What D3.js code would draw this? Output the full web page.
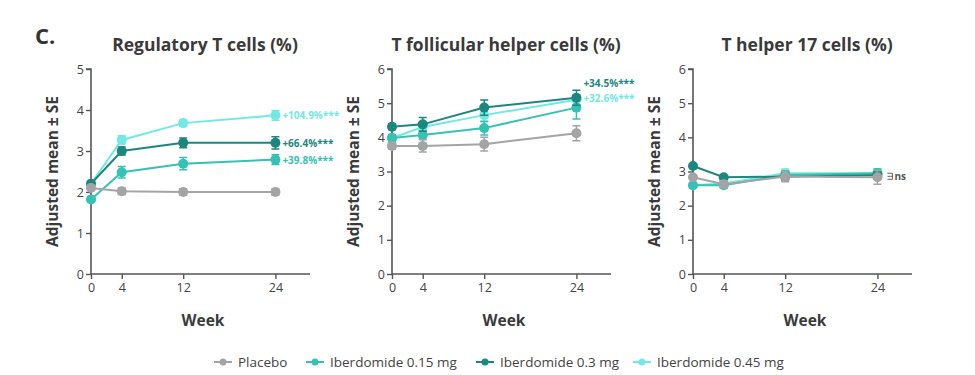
<!DOCTYPE html>
<html>
<head>
<meta charset="utf-8">
<script src="https://cdn.jsdelivr.net/npm/d3@7"></script>
<style>
  body { margin: 0; background: #fff; }
  text { font-family: "Open Sans", "DejaVu Sans", sans-serif; }
</style>
</head>
<body>
<script>
// data
var weeks = [0, 4, 12, 24];
var groups = ["Placebo", "Iberdomide 0.15 mg", "Iberdomide 0.3 mg", "Iberdomide 0.45 mg"];
var colors = ["#a3a4a6", "#35c2b3", "#1d877d", "#72e9e3"];

var titles = ["Regulatory T cells (%)", "T follicular helper cells (%)", "T helper 17 cells (%)"];
var yMax = [5, 6, 6];

// adjusted means per panel, one row per group
var tregMean = [[2.10, 2.02, 2.00, 2.00], [1.82, 2.48, 2.69, 2.79], [2.20, 3.00, 3.20, 3.20], [2.20, 3.27, 3.68, 3.87]];
var tregSE   = [[0.05, 0.08, 0.08, 0.08], [0.05, 0.14, 0.15, 0.12], [0.05, 0.10, 0.12, 0.15], [0.05, 0.10, 0.08, 0.12]];
var tfhMean  = [[3.75, 3.75, 3.80, 4.12], [3.98, 4.07, 4.27, 4.87], [4.31, 4.38, 4.87, 5.16], [3.98, 4.30, 4.65, 5.10]];
var tfhSE    = [[0.10, 0.18, 0.20, 0.22], [0.10, 0.12, 0.20, 0.33], [0.08, 0.20, 0.22, 0.22], [0.08, 0.12, 0.20, 0.15]];
var th17Mean = [[2.83, 2.63, 2.85, 2.83], [2.60, 2.60, 2.90, 2.95], [3.16, 2.83, 2.85, 2.90], [2.60, 2.65, 2.95, 2.95]];
var th17SE   = [[0.05, 0.10, 0.15, 0.20], [0.05, 0.08, 0.12, 0.12], [0.05, 0.05, 0.10, 0.10], [0.05, 0.08, 0.12, 0.12]];

// change vs baseline at week 24 (group index, text)
var tregLabels = [[3, "+104.9%***"], [2, "+66.4%***"], [1, "+39.8%***"]];
var tfhLabels  = [[2, "+34.5%***"], [3, "+32.6%***"]];
var th17Labels = [[0, "ns"]];

var means = [tregMean, tfhMean, th17Mean];
var ses = [tregSE, tfhSE, th17SE];
var labels = [tregLabels, tfhLabels, th17Labels];

var drawOrder = [3, 1, 2, 0];

var W = 975, H = 375;
var svg = d3.select("body").append("svg").attr("width", W).attr("height", H);

svg.append("text").attr("x", 35).attr("y", 44)
   .attr("font-size", 22).attr("font-weight", "bold").attr("fill", "#333")
   .text("C.");

var axisLeft0 = [91, 392, 693];
var plotTop = 69, plotBottom = 274, plotW = 219;
var axisColor = "#555";

titles.forEach(function(title, p) {
  var g = svg.append("g").attr("transform", "translate(" + axisLeft0[p] + ",0)");

  var x = d3.scaleLinear().domain([0, 28.5]).range([0, plotW]);
  var y = d3.scaleLinear().domain([0, yMax[p]]).range([plotBottom, plotTop]);

  g.append("text").attr("x", 114).attr("y", 51).attr("text-anchor", "middle")
   .attr("font-size", 17.5).attr("font-weight", "bold").attr("fill", "#3a3a3a")
   .text(title);

  var ya = g.append("g").call(d3.axisLeft(y).ticks(yMax[p]).tickSize(5).tickPadding(2).tickFormat(d3.format("d")));
  var xa = g.append("g").attr("transform", "translate(0," + plotBottom + ")")
            .call(d3.axisBottom(x).tickValues(weeks).tickSize(5).tickPadding(4));
  [ya, xa].forEach(function(a) {
    a.select(".domain").attr("stroke", axisColor).attr("stroke-width", 1.6);
    a.selectAll(".tick line").attr("stroke", axisColor).attr("stroke-width", 1.4);
    a.selectAll(".tick text").attr("fill", "#444").attr("font-size", 12.5);
  });
  xa.select(".domain").attr("d", "M0,0H" + plotW);
  ya.select(".domain").attr("d", "M-5," + plotTop + "H0V" + plotBottom);

  g.append("text").attr("transform", "translate(-33," + ((plotTop + plotBottom) / 2) + ") rotate(-90)")
   .attr("text-anchor", "middle").attr("font-size", 15.5).attr("font-weight", "bold").attr("fill", "#3a3a3a")
   .text("Adjusted mean \u00b1 SE");

  g.append("text").attr("x", 112).attr("y", 326).attr("text-anchor", "middle")
   .attr("font-size", 15.5).attr("font-weight", "bold").attr("fill", "#3a3a3a")
   .text("Week");

  var line = d3.line().x(function(d, i) { return x(weeks[i]); }).y(function(d) { return y(d); });

  drawOrder.forEach(function(s) {
    var vals = means[p][s];
    var sg = g.append("g");
    sg.append("path").attr("d", line(vals)).attr("fill", "none")
      .attr("stroke", colors[s]).attr("stroke-width", 2);
    vals.forEach(function(v, i) {
      var e = ses[p][s][i], cx = x(weeks[i]);
      sg.append("path")
        .attr("d", "M" + cx + "," + y(v - e) + "V" + y(v + e) +
                   "M" + (cx - 4) + "," + y(v - e) + "h8M" + (cx - 4) + "," + y(v + e) + "h8")
        .attr("stroke", colors[s]).attr("stroke-width", 1.5).attr("fill", "none");
    });
    sg.selectAll("circle").data(vals).enter().append("circle")
      .attr("cx", function(d, i) { return x(weeks[i]); })
      .attr("cy", function(d) { return y(d); })
      .attr("r", 5).attr("fill", colors[s]);
  });

  labels[p].forEach(function(l, k) {
    var s = l[0], v = means[p][s][weeks.length - 1];
    var lx = x(24) + 7, ly = y(v) + 4;
    if (p === 1) ly = k === 0 ? y(v) - 11 : y(v) + 2;
    if (l[1] === "ns") {
      lx = x(24) + 10; ly = y(v) + 3;
      g.append("path").attr("d", "M" + lx + "," + (ly - 7) + "h5v6h-5M" + lx + "," + (ly - 4) + "h5")
       .attr("stroke", "#555").attr("fill", "none").attr("stroke-width", 0.9);
      lx += 7;
    }
    g.append("text").attr("x", lx).attr("y", ly)
     .attr("font-size", 10).attr("font-weight", "bold")
     .attr("fill", l[1] === "ns" ? "#555" : colors[s])
     .text(l[1]);
  });
});

// legend
var lg = svg.append("g").attr("transform", "translate(0,362)");
var legX = [223, 315, 485, 642];
groups.forEach(function(name, s) {
  var it = lg.append("g").attr("transform", "translate(" + legX[s] + ",0)");
  it.append("line").attr("x1", -9).attr("x2", 9).attr("stroke", colors[s]).attr("stroke-width", 2);
  it.append("circle").attr("r", 3.5).attr("fill", colors[s]);
  it.append("text").attr("x", 15).attr("y", 4.5).attr("font-size", 13.5).attr("fill", "#444").text(name);
});
</script>
</body>
</html>
